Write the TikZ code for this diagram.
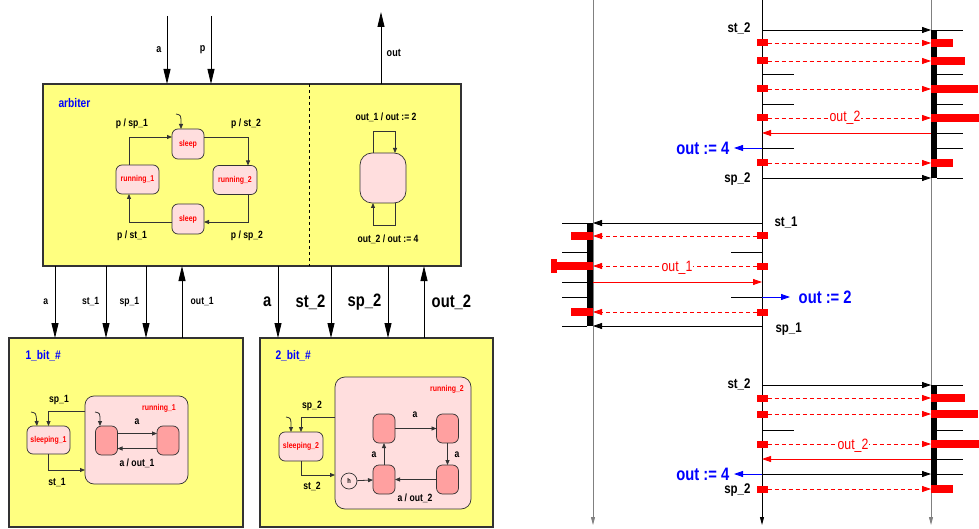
\documentclass[tikz,border=0pt]{standalone}
\usepackage{fontspec}
\setmainfont{Liberation Sans}[FakeStretch=0.82]
\usetikzlibrary{positioning,arrows.meta,calc}
\definecolor{BoxYellow}{HTML}{FFFF80}
\definecolor{StatePink}{HTML}{FFDEDE}
\definecolor{SubRed}{HTML}{FFA0A0}
\definecolor{LifeGray}{HTML}{808080}
\definecolor{LineGray}{HTML}{333333}
\newcommand{\setsz}[1]{\fontsize{#1}{#1}\selectfont\bfseries}

\begin{document}
\begin{tikzpicture}[x=1pt,y=-1pt,
  every node/.style={font=\setsz{10.5}},
  box/.style={draw=LineGray,line width=1.1pt,fill=BoxYellow,anchor=north west,inner sep=0pt,outer sep=0pt},
  state/.style={draw=LineGray,line width=0.7pt,rounded corners=6pt,fill=StatePink,text=red,font=\setsz{8.5},inner sep=0pt,outer sep=0pt},
  sub/.style={draw=LineGray,line width=0.7pt,rounded corners=6pt,fill=SubRed,minimum width=22pt,minimum height=29pt,inner sep=0pt,outer sep=0pt},
  trans/.style={draw=LineGray,line width=0.8pt,-{Triangle[length=5pt,width=4pt]}},
  sig/.style={line width=0.8pt,-{Triangle[length=15pt,width=7pt]}},
  boxname/.style={text=blue,anchor=west,font=\setsz{12.5}},
  biglbl/.style={font=\setsz{18}},
  life/.style={line width=0.8pt,-{Triangle[length=8pt,width=4pt]}},
  msg/.style={line width=0.8pt,-{Triangle[length=9pt,width=6pt]}},
  dmsg/.style={msg,red,dash pattern=on 4pt off 3pt},
  tick/.style={line width=0.9pt},
  msglbl/.style={font=\setsz{14}},
  outlbl/.style={text=blue,font=\setsz{18}},
  redlbl/.style={text=red,fill=white,inner sep=0.5pt,anchor=base,font=\fontsize{15}{15}\selectfont},
  sq/.style={fill=red,minimum width=11pt,minimum height=7pt,inner sep=0pt,outer sep=0pt},
  rbar/.style={fill=red,minimum height=8pt,inner sep=0pt,outer sep=0pt},
]
\useasboundingbox (0,0) rectangle (979,529);

% arbiter
\node[box,minimum width=418pt,minimum height=182pt] (arb) at (43,84) {};
\node[boxname] (arbL) at (55,103) {arbiter};
\draw[dashed,line width=0.8pt] (309,0 |- arb.north) -- (309,0 |- arb.south);
\coordinate (inA) at (167,16);
\coordinate (inP) at (211,16);
\coordinate (outO) at (381,12);
\draw[sig] (inA) -- (inA |- arb.north) node[midway,left=2pt,font=\setsz{11}] (inAL) {a};
\draw[sig] (inP) -- (inP |- arb.north) node[midway,left=2pt,font=\setsz{11}] (inPL) {p};
\draw[sig] (outO |- arb.north) -- (outO) node[pos=0.43,right=2pt,font=\setsz{11}] (outOL) {out};

\node[state,minimum width=32pt,minimum height=30pt] (sleepA) at (188,144) {sleep};
\node[state,minimum width=43pt,minimum height=29pt] (runA1) at (137.5,179.5) {running\_1};
\node[state,minimum width=44pt,minimum height=29pt] (runA2) at (235,180) {running\_2};
\node[state,minimum width=32pt,minimum height=30pt] (sleepB) at (188,219) {sleep};
\coordinate (initA) at (176,114);
\draw[trans] (initA) .. controls (181,115) .. ([xshift=-7pt]sleepA.north);
\draw[trans] ([xshift=-8.5pt]runA1.north) |- ([yshift=7pt]sleepA.west);
\draw[trans] ([yshift=7pt]sleepA.east) -| ([xshift=13pt]runA2.north);
\draw[trans] ([xshift=13pt]runA2.south) |- ([yshift=-3pt]sleepB.east);
\draw[trans] ([yshift=-3pt]sleepB.west) -| ([xshift=-8.5pt]runA1.south);
\node (lsp1) at (132,124) {p / sp\_1};
\node (lst2) at (246,124) {p / st\_2};
\node (lst1) at (132,236) {p / st\_1};
\node (lsp2) at (247,236) {p / sp\_2};

\node[state,minimum width=46pt,minimum height=50pt,rounded corners=12pt] (outS) at (383,178) {};
\draw[trans] ([xshift=-10pt]outS.north) -- ++(0,-22) -| ([xshift=12pt]outS.north);
\draw[trans] ([xshift=12pt]outS.south) -- ++(0,22) -| ([xshift=-10pt]outS.south);
\node (lout1) at (386,117) {out\_1 / out := 2};
\node (lout2) at (388,239) {out\_2 / out := 4};

% 1_bit_#
\node[box,minimum width=234pt,minimum height=189pt] (bit1) at (9,338) {};
\node[boxname] (bit1L) at (22,356) {1\_bit\_\#};
\draw[sig] (55,0 |- arb.south) -- (55,0 |- bit1.north) node[midway,left=3pt] (c1a) {a};
\draw[sig] (106,0 |- arb.south) -- (106,0 |- bit1.north) node[midway,left=3pt] (c1st) {st\_1};
\draw[sig] (146,0 |- arb.south) -- (146,0 |- bit1.north) node[midway,left=3pt] (c1sp) {sp\_1};
\draw[sig] (182,0 |- bit1.north) -- (182,0 |- arb.south) node[midway,right=5pt] (c1out) {out\_1};

\node[state,minimum width=103pt,minimum height=88pt,rounded corners=9pt] (run1) at (136.5,440) {};
\node[text=red,font=\setsz{8.5}] (run1L) at (159,408) {running\_1};
\node[state,minimum width=43pt,minimum height=28pt] (sleep1) at (48.5,440) {sleeping\_1};
\node[sub] (r1a) at (106.5,440.5) {};
\node[sub] (r1b) at (168,440.5) {};
\coordinate (init1) at (31,412);
\coordinate (init1b) at (95,412);
\draw[trans] (init1) .. controls (36,413) .. ([xshift=-11.5pt]sleep1.north);
\draw[trans] (init1b) .. controls (100,413) .. ([xshift=-6.5pt]r1a.north);
\draw[trans] ([yshift=7pt]r1a.east) -- ([yshift=7pt]r1b.west);
\draw[trans] ([yshift=-8pt]r1b.west) -- ([yshift=-8pt]r1a.east);
\draw[trans] (run1.west |- 0,411) -| (sleep1.north);
\draw[trans] (sleep1.south) |- (run1.west |- 0,470);
\node (l1a) at (137,422) {a};
\node (l1out) at (137,463) {a / out\_1};
\node (l1sp) at (59,400) {sp\_1};
\node (l1st) at (57,483) {st\_1};

% 2_bit_#
\node[box,minimum width=233pt,minimum height=189pt] (bit2) at (260,338) {};
\node[boxname] (bit2L) at (272,356) {2\_bit\_\#};
\draw[sig] (278,0 |- arb.south) -- (278,0 |- bit2.north) node[midway,left=3pt,biglbl] (c2a) {a};
\draw[sig] (331,0 |- arb.south) -- (331,0 |- bit2.north) node[midway,left=2pt,biglbl] (c2st) {st\_2};
\draw[sig] (388,0 |- arb.south) -- (388,0 |- bit2.north) node[midway,left=3pt,biglbl] (c2sp) {sp\_2};
\draw[sig] (424,0 |- bit2.north) -- (424,0 |- arb.south) node[midway,right=4pt,biglbl] (c2out) {out\_2};

\node[state,minimum width=136pt,minimum height=132pt,rounded corners=10pt] (run2) at (403,443) {};
\node[text=red,font=\setsz{8.5}] (run2L) at (447,389) {running\_2};
\node[state,minimum width=44pt,minimum height=29pt] (sleep2) at (301,446.5) {sleeping\_2};
\node[draw=LineGray,line width=0.7pt,circle,fill=StatePink,minimum size=16pt,inner sep=0pt,font=\setsz{7}] (hist) at (349,481) {h};
\node[sub] (s2a) at (384,428.5) {};
\node[sub] (s2b) at (447.5,428.5) {};
\node[sub] (s2c) at (447.5,479.5) {};
\node[sub] (s2d) at (384,479.5) {};
\coordinate (init2) at (286,417);
\draw[trans] (init2) .. controls (291,418) .. ([xshift=-10pt]sleep2.north);
\draw[trans] (s2a) -- (s2b);
\draw[trans] (s2b) -- (s2c);
\draw[trans] (s2c) -- (s2d);
\draw[trans] (s2d) -- (s2a);
\draw[trans] (hist) -- (s2d);
\draw[trans] (run2.west |- 0,417) -| (sleep2.north);
\draw[trans] (sleep2.south) |- (run2.west |- 0,475);
\node (l2a) at (415,415) {a};
\node (l2b) at (457,455) {a};
\node (l2c) at (415,498) {a / out\_2};
\node (l2d) at (374,455) {a};
\node (l2sp) at (312,406) {sp\_2};
\node (l2st) at (312,486) {st\_2};

% lifelines
\coordinate (L1) at (593,0);
\coordinate (L2) at (762,0);
\coordinate (L3) at (931,0);
\draw[life,LifeGray] (L1) -- (L1 |- 0,525);
\draw[life] (L2) -- (L2 |- 0,525);
\draw[life,LifeGray] (L3) -- (L3 |- 0,525);
\fill (L3 |- 0,30) rectangle ++(6,148);
\fill (L1 |- 0,223) rectangle ++(-6,103);
\fill (L3 |- 0,385) rectangle ++(6,102);

% first run of 2_bit_#
\draw[msg] (L2 |- 0,30) -- (L3 |- 0,30);
\node[msglbl,anchor=base east] (st2a) at (754,33) {st\_2};
\node[sq] (qa1) at (L2 |- 0,43) {};
\draw[dmsg] (qa1) -- (L3 |- qa1);
\node[rbar,anchor=west,minimum width=22pt] (ba1) at (L3 |- qa1) {};
\node[sq] (qa2) at (L2 |- 0,61) {};
\draw[dmsg] (qa2) -- (L3 |- qa2);
\node[rbar,anchor=west,minimum width=34pt] (ba2) at (L3 |- qa2) {};
\node[sq] (qa3) at (L2 |- 0,89) {};
\draw[dmsg] (qa3) -- (L3 |- qa3);
\node[rbar,anchor=west,minimum width=47pt] (ba3) at (L3 |- qa3) {};
\node[sq] (qa4) at (L2 |- 0,118) {};
\draw[dmsg] (qa4) -- (L3 |- qa4);
\node[rbar,anchor=west,minimum width=48pt] (ba4) at (L3 |- qa4) {};
\node[redlbl] (o2a) at (845,122) {out\_2};
\draw[msg,red] (L3 |- 0,133) -- (L2 |- 0,133);
\draw[msg,blue] (L2 |- 0,148) -- ++(-28,0) node[left=1pt,outlbl] (o4a) {out := 4};
\node[sq] (qa5) at (L2 |- 0,163) {};
\draw[dmsg] (qa5) -- (L3 |- qa5);
\node[rbar,anchor=west,minimum width=22pt] (ba5) at (L3 |- qa5) {};
\draw[msg] (L2 |- 0,178) -- (L3 |- 0,178);
\node[msglbl,anchor=base east] (sp2a) at (754,183) {sp\_2};
\draw[tick] (L3 |- 0,30) ++(6,0) -- ++(26,0);
\draw[tick] (L3 |- 0,74) ++(6,0) -- ++(26,0);
\draw[tick] (L3 |- 0,104) ++(6,0) -- ++(26,0);
\draw[tick] (L3 |- 0,133) ++(6,0) -- ++(26,0);
\draw[tick] (L3 |- 0,148) ++(6,0) -- ++(26,0);
\draw[tick] (L3 |- 0,178) ++(6,0) -- ++(26,0);
\draw[tick] (L2 |- 0,74) -- ++(32,0);
\draw[tick] (L2 |- 0,104) -- ++(32,0);
\draw[tick] (L2 |- 0,148) -- ++(32,0);

% run of 1_bit_#
\draw[msg] (L2 |- 0,223) -- (L1 |- 0,223);
\node[msglbl,anchor=base west] (st1b) at (771,227) {st\_1};
\node[sq] (qb1) at (L2 |- 0,236) {};
\draw[dmsg] (qb1) -- (L1 |- qb1);
\node[rbar,anchor=east,minimum width=22pt] (bb1) at (L1 |- qb1) {};
\node[sq] (qb2) at (L2 |- 0,266) {};
\draw[dmsg] (qb2) -- (L1 |- qb2);
\node[rbar,anchor=east,minimum width=36pt] (bb2) at (L1 |- qb2) {};
\node[rbar,anchor=east,minimum width=6pt,minimum height=13pt] (bb2cap) at (bb2.west) {};
\node[redlbl] (o1b) at (677,272) {out\_1};
\draw[msg,red] (L1 |- 0,282) -- (L2 |- 0,282);
\draw[msg,blue] (L2 |- 0,297) -- ++(28,0) node[right=5pt,outlbl] (o2b) {out := 2};
\node[sq] (qb3) at (L2 |- 0,312) {};
\draw[dmsg] (qb3) -- (L1 |- qb3);
\node[rbar,anchor=east,minimum width=22pt] (bb3) at (L1 |- qb3) {};
\draw[msg] (L2 |- 0,326) -- (L1 |- 0,326);
\node[msglbl,anchor=base west] (sp1b) at (772,332) {sp\_1};
\draw[tick] (L1 |- 0,223) ++(-6,0) -- ++(-25,0);
\draw[tick] (L1 |- 0,252) ++(-6,0) -- ++(-25,0);
\draw[tick] (L1 |- 0,282) ++(-6,0) -- ++(-25,0);
\draw[tick] (L1 |- 0,297) ++(-6,0) -- ++(-25,0);
\draw[tick] (L1 |- 0,326) ++(-6,0) -- ++(-25,0);
\draw[tick] (L2 |- 0,252) -- ++(-31,0);
\draw[tick] (L2 |- 0,297) -- ++(-31,0);

% second run of 2_bit_#
\draw[msg] (L2 |- 0,385) -- (L3 |- 0,385);
\node[msglbl,anchor=base east] (st2c) at (754,388) {st\_2};
\node[sq] (qc1) at (L2 |- 0,398) {};
\draw[dmsg] (qc1) -- (L3 |- qc1);
\node[rbar,anchor=west,minimum width=34pt] (bc1) at (L3 |- qc1) {};
\node[sq] (qc2) at (L2 |- 0,414) {};
\draw[dmsg] (qc2) -- (L3 |- qc2);
\node[rbar,anchor=west,minimum width=47pt] (bc2) at (L3 |- qc2) {};
\node[sq] (qc3) at (L2 |- 0,444) {};
\draw[dmsg] (qc3) -- (L3 |- qc3);
\node[rbar,anchor=west,minimum width=48pt] (bc3) at (L3 |- qc3) {};
\node[redlbl] (o2c) at (853,449) {out\_2};
\draw[msg,red] (L3 |- 0,459) -- (L2 |- 0,459);
\draw[msg] (L2 |- 0,474) -- (L3 |- 0,474);
\draw[msg,blue] (L2 |- 0,474) -- ++(-28,0) node[left=1pt,outlbl] (o4c) {out := 4};
\node[sq] (qc4) at (L2 |- 0,489) {};
\draw[dmsg] (qc4) -- (L3 |- qc4);
\node[rbar,anchor=west,minimum width=22pt] (bc4) at (L3 |- qc4) {};
\node[msglbl,anchor=base east] (sp2c) at (754,493) {sp\_2};
\draw[tick] (L3 |- 0,385) ++(6,0) -- ++(26,0);
\draw[tick] (L3 |- 0,430) ++(6,0) -- ++(26,0);
\draw[tick] (L3 |- 0,459) ++(6,0) -- ++(26,0);
\draw[tick] (L3 |- 0,474) ++(6,0) -- ++(26,0);
\draw[tick] (L2 |- 0,430) -- ++(32,0);
\end{tikzpicture}
\end{document}
